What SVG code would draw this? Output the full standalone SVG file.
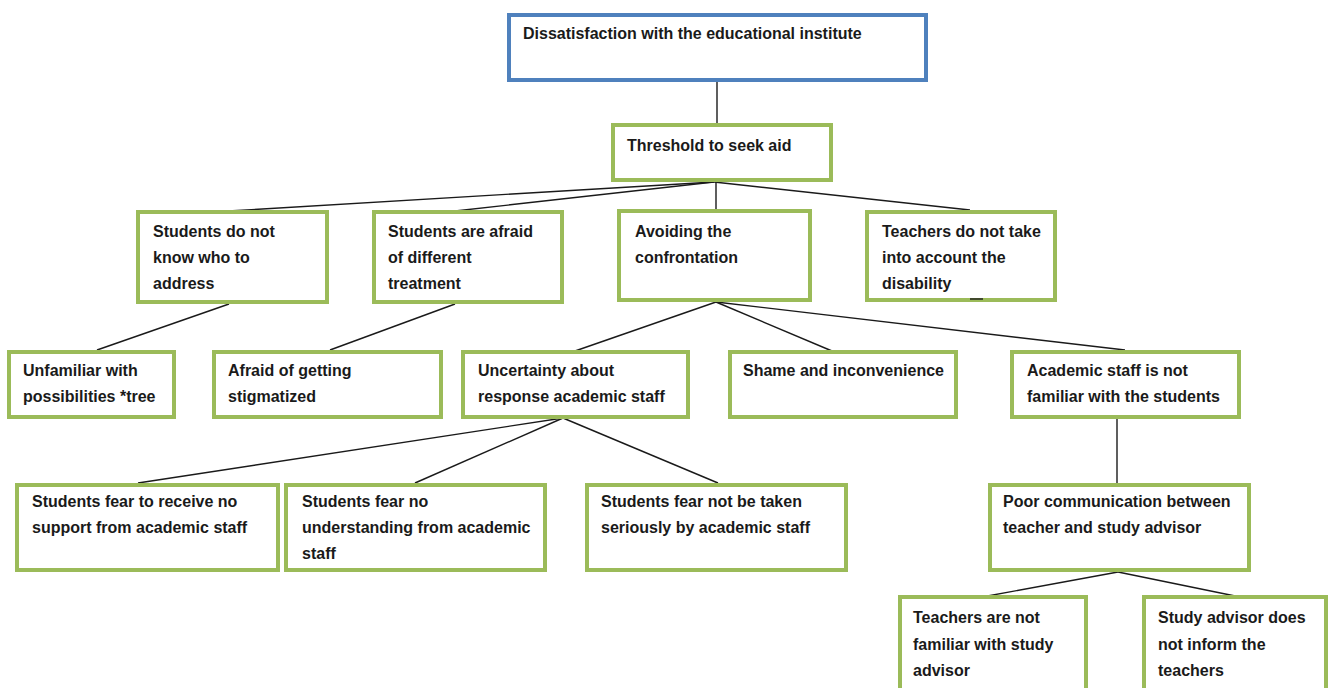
<svg xmlns="http://www.w3.org/2000/svg" width="1335" height="688" viewBox="0 0 1335 688">
<style>
.g{fill:#fff;stroke:#9bbb59;stroke-width:4}
.b{fill:#fff;stroke:#4f81bd;stroke-width:4}
.t{font-family:"Liberation Sans",Arial,sans-serif;font-size:16px;font-weight:bold;fill:#1a1a1a}
.c line{stroke:#1a1a1a;stroke-width:1.4}
</style>
<rect width="1335" height="688" fill="#fff"/>
<g class="c" id="connectors">
<line x1="717" y1="82" x2="717" y2="123"/>
<line x1="714" y1="182" x2="228" y2="211"/>
<line x1="714" y1="182" x2="455" y2="211"/>
<line x1="716" y1="182" x2="716" y2="209"/>
<line x1="714" y1="182" x2="970" y2="210"/>
<line x1="229" y1="304" x2="97" y2="350"/>
<line x1="455" y1="304" x2="330" y2="350"/>
<line x1="716" y1="302" x2="575" y2="351"/>
<line x1="716" y1="302" x2="832" y2="351"/>
<line x1="716" y1="302" x2="1125" y2="350"/>
<line x1="563" y1="418" x2="138" y2="483"/>
<line x1="563" y1="418" x2="415" y2="483"/>
<line x1="563" y1="418" x2="718" y2="483"/>
<line x1="1117" y1="419" x2="1117" y2="483"/>
<line x1="1118" y1="572" x2="982" y2="597"/>
<line x1="1118" y1="572" x2="1240" y2="597"/>
</g>
<g id="n-top"><rect class="b" x="509" y="15" width="417" height="65"/><text class="t" x="523" y="39">Dissatisfaction with the educational institute</text></g>
<g id="n-threshold"><rect class="g" x="613" y="125" width="218" height="55"/><text class="t" x="627" y="151">Threshold to seek aid</text></g>
<g id="n-know"><rect class="g" x="138" y="212" width="189" height="90"/><text class="t" x="153" y="237">Students do not</text><text class="t" x="153" y="263">know who to</text><text class="t" x="153" y="289">address</text></g>
<g id="n-afraid"><rect class="g" x="374" y="212" width="188" height="90"/><text class="t" x="388" y="237">Students are afraid</text><text class="t" x="388" y="263">of different</text><text class="t" x="388" y="289">treatment</text></g>
<g id="n-avoid"><rect class="g" x="619" y="211" width="191" height="89"/><text class="t" x="635" y="237">Avoiding the</text><text class="t" x="635" y="263">confrontation</text></g>
<g id="n-teachers"><rect class="g" x="867" y="212" width="188" height="88"/><text class="t" x="882" y="237">Teachers do not take</text><text class="t" x="882" y="263">into account the</text><text class="t" x="882" y="289">disability</text><line x1="970" y1="299" x2="983" y2="299" stroke="#1a1a1a" stroke-width="1.4"/></g>
<g id="n-unfamiliar"><rect class="g" x="9" y="352" width="165" height="65"/><text class="t" x="23" y="376">Unfamiliar with</text><text class="t" x="23" y="402">possibilities *tree</text></g>
<g id="n-stigma"><rect class="g" x="214" y="352" width="227" height="65"/><text class="t" x="228" y="376">Afraid of getting</text><text class="t" x="228" y="402">stigmatized</text></g>
<g id="n-uncertainty"><rect class="g" x="463" y="352" width="225" height="65"/><text class="t" x="478" y="376">Uncertainty about</text><text class="t" x="478" y="402">response academic staff</text></g>
<g id="n-shame"><rect class="g" x="730" y="352" width="226" height="65"/><text class="t" x="743" y="376">Shame and inconvenience</text></g>
<g id="n-academic"><rect class="g" x="1012" y="352" width="227" height="65"/><text class="t" x="1027" y="376">Academic staff is not</text><text class="t" x="1027" y="402">familiar with the students</text></g>
<g id="n-poor"><rect class="g" x="990" y="485" width="259" height="85"/><text class="t" x="1003" y="507">Poor communication between</text><text class="t" x="1003" y="533">teacher and study advisor</text></g>
<g id="n-support"><rect class="g" x="17" y="485" width="261" height="85"/><text class="t" x="32" y="507">Students fear to receive no</text><text class="t" x="32" y="533">support from academic staff</text></g>
<g id="n-understanding"><rect class="g" x="286" y="485" width="259" height="85"/><text class="t" x="302" y="507">Students fear no</text><text class="t" x="302" y="533">understanding from academic</text><text class="t" x="302" y="559">staff</text></g>
<g id="n-seriously"><rect class="g" x="587" y="485" width="259" height="85"/><text class="t" x="601" y="507">Students fear not be taken</text><text class="t" x="601" y="533">seriously by academic staff</text></g>
<g id="n-teachers-advisor"><rect class="g" x="900" y="597" width="186" height="100"/><text class="t" x="913" y="623">Teachers are not</text><text class="t" x="913" y="650">familiar with study</text><text class="t" x="913" y="676">advisor</text></g>
<g id="n-advisor-inform"><rect class="g" x="1144" y="597" width="182" height="100"/><text class="t" x="1158" y="623">Study advisor does</text><text class="t" x="1158" y="650">not inform the</text><text class="t" x="1158" y="676">teachers</text></g>
</svg>
